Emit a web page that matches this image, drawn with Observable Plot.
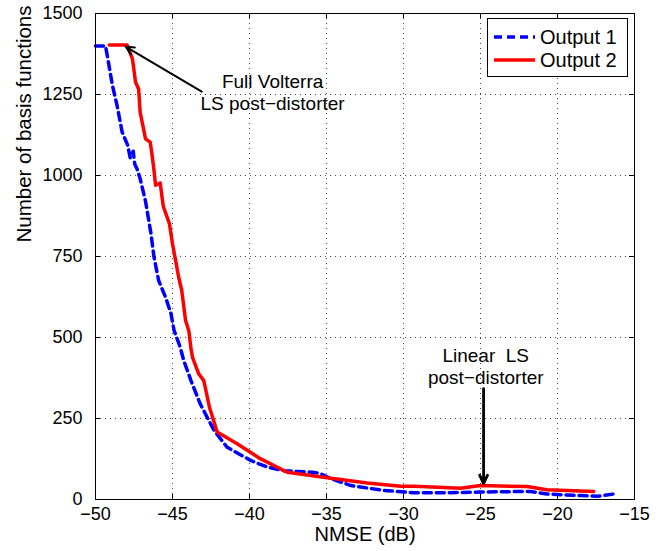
<!DOCTYPE html>
<html><head><meta charset="utf-8">
<script src="https://cdn.jsdelivr.net/npm/d3@7"></script>
<script src="https://cdn.jsdelivr.net/npm/@observablehq/plot@0.6"></script>
<style>
body{margin:0;background:#fff;}
#wrap{position:relative;width:663px;height:551px;font-family:"Liberation Sans",Arial,sans-serif;}
#legend{position:absolute;left:487px;top:18px;}
</style></head><body><div id="wrap"></div>
<script>
// ---- data ----
const seriesNames = ["Output 1", "Output 2"];
const seriesColors = ["#0000ff", "#ff0000"];
const output1Nmse = [-50,-49.35,-49.2,-48.9,-48.6,-48.27,-47.9,-47.75,-47.55,-47.45,-47.3,-47.1,-46.75,-46.4,-46.2,-45.9,-45.45,-45.1,-44.9,-44.5,-44.27,-43.8,-43.2,-42.3,-41.45,-39.9,-38.85,-37.8,-35.9,-35.4,-34.7,-33.4,-31.3,-29.35,-27.2,-25,-21.75,-20.7,-18.5,-17.4,-16.35];
const output1Basis = [1400,1400,1360,1278,1216,1134,1092,1055,1075,1035,1020,990,920,821,748,676,624,574,522,470,429,367,295,213,161,120,100,89,84,80,64,43,28,21,21,23,25,17,12,10,17];
const output2Nmse = [-49.1,-47.95,-47.6,-47.4,-47.2,-47.1,-46.75,-46.45,-46.35,-46.2,-46.1,-45.8,-45.6,-45.2,-45.0,-44.8,-44.6,-44.4,-44.15,-43.94,-43.8,-43.7,-43.3,-42.97,-42.6,-42.1,-40.8,-39.3,-37.55,-35.2,-32.35,-30.2,-29.3,-26.3,-25,-21.97,-20.7,-17.65];
const output2Basis = [1403,1403,1360,1288,1267,1195,1113,1103,1072,1015,970,977,905,851,789,738,686,645,552,521,465,439,388,367,285,208,172,126,84,69,51,41,41,35,43,40,30,25];
const xTicks = [-50,-45,-40,-35,-30,-25,-20,-15];
const yTicks = [0,250,500,750,1000,1250,1500];
const xLabel = "NMSE (dB)";
const yLabel = "Number of basis functions";
const noteTexts = ["Full Volterra\nLS post\u2212distorter", "Linear  LS\npost\u2212distorter"];
const noteX = [-38.5, -24.66];
const noteY = [1257, 412];
const arrowFromX = [-43.1, -24.8];
const arrowFromY = [1259, 342];
const arrowToX = [-48.05, -24.8];
const arrowToY = [1398, 49];
const arrowWidths = [2, 2.8];

// ---- build tables ----
const s1 = output1Nmse.map((x, i) => ({x, y: output1Basis[i]}));
const s2 = output2Nmse.map((x, i) => ({x, y: output2Basis[i]}));
const notes = noteTexts.map((t, i) => ({t, x: noteX[i], y: noteY[i]}));
const arrows = arrowFromX.map((x1, i) => ({x1, y1: arrowFromY[i], x2: arrowToX[i], y2: arrowToY[i], w: arrowWidths[i]}));
const xGrid = xTicks.slice(1, -1);
const yGrid = yTicks.slice(1, -1);

const W = 663, H = 551, mL = 95, mR = 29, mT = 13, mB = 52;
const pw = W - mL - mR, ph = H - mT - mB, tl = 5;

const chart = Plot.plot({
  width: W, height: H,
  marginLeft: mL, marginRight: mR, marginTop: mT, marginBottom: mB,
  style: {fontFamily: '"Liberation Sans", Arial, sans-serif', fontSize: "18px", background: "#fff", color: "#000"},
  x: {domain: [-50, -15]},
  y: {domain: [0, 1500]},
  marks: [
    Plot.ruleX(xGrid, {stroke: "#444", strokeDasharray: "1,4", strokeWidth: 1}),
    Plot.ruleY(yGrid, {stroke: "#444", strokeDasharray: "1,4", strokeWidth: 1}),
    Plot.tickX(xTicks, {x: d => d, insetTop: ph - tl, stroke: "#000"}),
    Plot.tickX(xTicks, {x: d => d, insetBottom: ph - tl, stroke: "#000"}),
    Plot.tickY(yTicks, {y: d => d, insetRight: pw - tl, stroke: "#000"}),
    Plot.tickY(yTicks, {y: d => d, insetLeft: pw - tl, stroke: "#000"}),
    Plot.line(s1, {x: "x", y: "y", stroke: seriesColors[0], strokeWidth: 3.5, strokeDasharray: "8,5", strokeLinejoin: "round"}),
    Plot.line(s2, {x: "x", y: "y", stroke: seriesColors[1], strokeWidth: 3.5, strokeLinejoin: "round"}),
    Plot.arrow(arrows, {x1: "x1", y1: "y1", x2: "x2", y2: "y2", stroke: "#000", strokeWidth: "w", headLength: 14, headAngle: 50}),
    Plot.text(notes, {x: "x", y: "y", text: "t", fontSize: 19, lineHeight: 1.16, fill: "#000"}),
    Plot.frame({stroke: "#000", strokeWidth: 1}),
    Plot.axisX({ticks: xTicks, tickSize: 0, tickPadding: 8, label: null, tickFormat: d3.format("d")}),
    Plot.axisY({ticks: yTicks, tickSize: 0, tickPadding: 13, label: null, tickFormat: d3.format("d")}),
    Plot.text([xLabel], {frameAnchor: "bottom", dy: 41, fontSize: 20, fill: "#000"}),
    Plot.text([yLabel], {frameAnchor: "left", dx: -71, dy: -14, rotate: -90, fontSize: 20.5, fill: "#000"})
  ]
});
document.getElementById("wrap").appendChild(chart);

// ---- legend (inside plot area, top-right) ----
const leg = d3.select("#wrap").append("div").attr("id", "legend")
  .append("svg").attr("width", 141).attr("height", 59)
  .style("font-family", '"Liberation Sans", Arial, sans-serif');
leg.append("rect").attr("x", 0.5).attr("y", 0.5).attr("width", 140).attr("height", 58)
  .attr("fill", "#fff").attr("stroke", "#000");
seriesNames.forEach((name, i) => {
  const cy = 19 + i * 23;
  leg.append("line").attr("x1", 7).attr("x2", 48).attr("y1", cy).attr("y2", cy)
    .attr("stroke", seriesColors[i]).attr("stroke-width", 3.5)
    .attr("stroke-dasharray", i === 0 ? "8,5" : null);
  leg.append("text").attr("x", 53).attr("y", cy).attr("dy", "0.35em")
    .attr("font-size", 20).text(name);
});
</script></body></html>
